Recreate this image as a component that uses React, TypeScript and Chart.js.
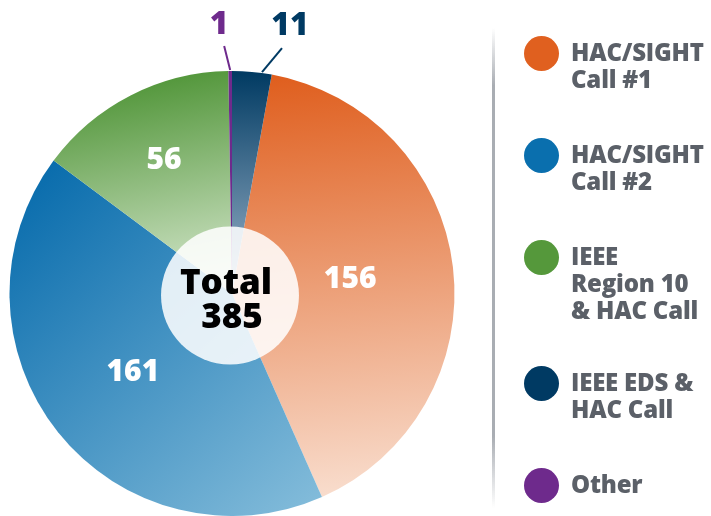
import React, { useEffect, useRef } from "react";
import { Chart, registerables } from "chart.js";

Chart.register(...registerables);

const categories = [
  "HAC/SIGHT Call #1",
  "HAC/SIGHT Call #2",
  "IEEE Region 10 & HAC Call",
  "IEEE EDS & HAC Call",
  "Other",
];
const values = [156, 161, 56, 11, 1];
const colors = ["#e0601f", "#0a6fae", "#55983b", "#003a63", "#6e2a8c"];
const legendLines = [
  ["HAC/SIGHT", "Call #1"],
  ["HAC/SIGHT", "Call #2"],
  ["IEEE", "Region 10", "& HAC Call"],
  ["IEEE EDS &", "HAC Call"],
  ["Other"],
];
// clockwise order of slices around the pie (indexes into categories)
const pieOrder = [0, 1, 2, 4, 3];
const totalLabel = "Total";

const FONT = "'Open Sans', sans-serif";

export default function App() {
  const ref = useRef<HTMLCanvasElement>(null);

  useEffect(() => {
    const canvas = ref.current!;
    const total = values.reduce((a, b) => a + b, 0);
    const orderedValues = pieOrder.map((i) => values[i]);
    const orderedLabels = pieOrder.map((i) => categories[i]);
    const rotation = (values[3] / total) * 360;

    const gradStops: Record<number, [number, number, number, number, string, string]> = {
      0: [0.2, -1, 0.4, 0.95, "#df5d1c", "#f9dfd0"],
      1: [-0.9, -0.5, 0.45, 1.0, "#0a6dad", "#88bfdc"],
      2: [-0.2, -1, 0.0, 0.0, "#52963a", "#dcebd4"],
      3: [0, -1, 0, 0, "#003a62", "#9fb6cc"],
      4: [0, -1, 0, 0, "#6e2a8c", "#6e2a8c"],
    };

    const bg = (ctx: any) => {
      const chart = ctx.chart;
      const ca = chart.chartArea;
      const catIdx = pieOrder[ctx.dataIndex];
      if (!ca) return colors[catIdx];
      const cx = (ca.left + ca.right) / 2;
      const cy = (ca.top + ca.bottom) / 2;
      const r = Math.min(ca.right - ca.left, ca.bottom - ca.top) / 2;
      const s = gradStops[catIdx];
      const g = chart.ctx.createLinearGradient(cx + s[0] * r, cy + s[1] * r, cx + s[2] * r, cy + s[3] * r);
      g.addColorStop(0, s[4]);
      g.addColorStop(1, s[5]);
      return g;
    };

    const overlay = {
      id: "overlay",
      afterDatasetsDraw(chart: any) {
        const c = chart.ctx;
        const arcs = chart.getDatasetMeta(0).data;
        const a0 = arcs[0];
        const cx = a0.x;
        const cy = a0.y;
        const r = a0.outerRadius;

        // center circle
        c.save();
        c.beginPath();
        c.arc(cx - 2, cy + 2, r * 0.31, 0, Math.PI * 2);
        c.fillStyle = "rgba(255,255,255,0.86)";
        c.fill();

        c.fillStyle = "#000";
        c.textAlign = "center";
        c.textBaseline = "middle";
        c.font = `800 35px ${FONT}`;
        c.fillText(totalLabel, cx - 6, cy - 9);
        c.fillText(String(total), cx, cy + 25);

        // inner labels
        const frac: Record<number, number> = { 0: 0.535, 1: 0.57, 2: 0.67 };
        c.fillStyle = "#fff";
        c.font = `800 30px ${FONT}`;
        arcs.forEach((arc: any, i: number) => {
          const catIdx = pieOrder[i];
          if (frac[catIdx] === undefined) return;
          const mid = (arc.startAngle + arc.endAngle) / 2;
          const rr = arc.outerRadius * frac[catIdx];
          c.fillText(String(values[catIdx]), cx + Math.cos(mid) * rr, cy + Math.sin(mid) * rr);
        });

        // outer labels with leader lines
        const outer: Record<number, { f: number; dx: number; dy: number; tx: number; ty: number }> = {
          4: { f: 0.5, dx: -6, dy: -24, tx: -5, ty: -21 },
          3: { f: 0.75, dx: 20, dy: -24, tx: 8, ty: -22 },
        };
        arcs.forEach((arc: any, i: number) => {
          const catIdx = pieOrder[i];
          const o = outer[catIdx];
          if (!o) return;
          const ang = arc.startAngle + (arc.endAngle - arc.startAngle) * o.f;
          const sx = cx + Math.cos(ang) * (r + 1);
          const sy = cy + Math.sin(ang) * (r + 1);
          const ex = sx + o.dx;
          const ey = sy + o.dy;
          c.strokeStyle = colors[catIdx];
          c.lineWidth = 2;
          c.beginPath();
          c.moveTo(sx, sy);
          c.lineTo(ex, ey);
          c.stroke();
          c.fillStyle = colors[catIdx];
          c.font = `800 32px ${FONT}`;
          c.fillText(String(values[catIdx]), ex + o.tx, ey + o.ty);
        });
        c.restore();
      },
    };

    const chart = new Chart(canvas, {
      type: "pie",
      data: {
        labels: orderedLabels,
        datasets: [
          {
            data: orderedValues,
            backgroundColor: bg as any,
            borderWidth: 0,
          },
        ],
      },
      options: {
        responsive: false,
        animation: false,
        rotation,
        layout: { padding: { left: 9, top: 71, right: 256, bottom: 0 } },
        plugins: { legend: { display: false }, tooltip: { enabled: false } },
      },
      plugins: [overlay],
    });
    return () => chart.destroy();
  }, []);

  const circleY = [53, 155, 257, 383, 485];

  return (
    <div style={{ position: "fixed", left: 0, top: 0, width: 711, height: 516, background: "#fff", overflow: "hidden" }}>
      <canvas ref={ref} width={711} height={516} style={{ position: "absolute", left: 0, top: 0 }} />
      <div
        style={{
          position: "absolute",
          left: 492,
          top: 28,
          width: 3,
          height: 480,
          background: "linear-gradient(to bottom, rgba(170,174,180,0) 0%, #a9adb3 12%, #a9adb3 85%, rgba(170,174,180,0) 100%)",
        }}
      />
      {categories.map((name, i) => (
        <div key={name}>
          <div
            style={{
              position: "absolute",
              left: 524,
              top: circleY[i] - 17.5,
              width: 35,
              height: 35,
              borderRadius: "50%",
              background: colors[i],
            }}
          />
          <div
            style={{
              position: "absolute",
              left: 571,
              top: circleY[i] - 15,
              fontFamily: FONT,
              fontWeight: 800,
              fontSize: 24,
              lineHeight: "27px",
              color: "#5b6068",
              whiteSpace: "nowrap",
              letterSpacing: "-0.2px",
            }}
          >
            {legendLines[i].map((l, j) => (
              <div key={j}>{l}</div>
            ))}
          </div>
        </div>
      ))}
    </div>
  );
}
